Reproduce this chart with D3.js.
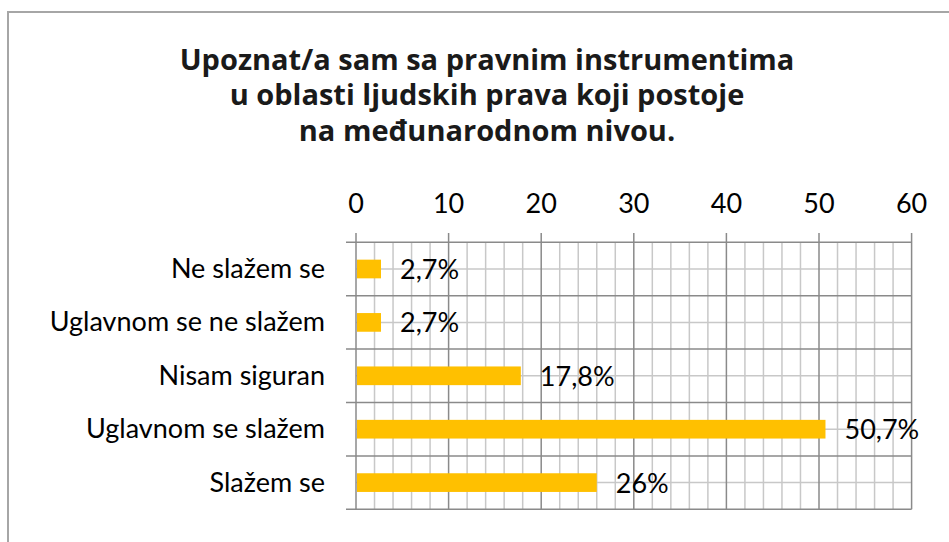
<!DOCTYPE html>
<html>
<head>
<meta charset="utf-8">
<script src="https://cdn.jsdelivr.net/npm/d3@7"></script>
<style>
  html, body { margin: 0; padding: 0; background: #fff; }
  svg { display: block; }
</style>
</head>
<body>
<svg id="chart" width="949" height="542"></svg>
<script>
const titleLines = ["Upoznat/a sam sa pravnim instrumentima", "u oblasti ljudskih prava koji postoje", "na međunarodnom nivou."];
const categories = ["Ne slažem se", "Uglavnom se ne slažem", "Nisam siguran", "Uglavnom se slažem", "Slažem se"];
const values = [2.7, 2.7, 17.8, 50.7, 26];
const valueLabels = ["2,7%", "2,7%", "17,8%", "50,7%", "26%"];
const tickValues = [0, 10, 20, 30, 40, 50, 60];
const minorTickValues = d3.range(0, 61, 2);

const svg = d3.select("#chart");
const labelFont = "Lato, 'Open Sans', sans-serif";
const labelSize = 27;

// outer border
svg.append("rect")
  .attr("x", 8).attr("y", 12).attr("width", 960).attr("height", 560)
  .attr("fill", "none").attr("stroke", "#a6a6a6").attr("stroke-width", 2);

// title
const title = svg.append("text")
  .attr("text-anchor", "middle")
  .attr("font-family", "'Open Sans', sans-serif")
  .attr("font-weight", "bold")
  .attr("font-size", 29)
  .attr("fill", "#1a1a1a");
titleLines.forEach((t, i) => {
  title.append("tspan").attr("x", 487).attr("y", 69.5 + i * 35.5).text(t);
});

const x = d3.scaleLinear().domain([0, 60]).range([356, 911.6]);
const y = d3.scaleBand().domain(categories).range([242.3, 509.3]).paddingInner(0.65).paddingOuter(0.325);
const yOuter = d3.scaleBand().domain(categories).range([242.3, 509.3]);

const grid = svg.append("g");
// minor vertical
grid.selectAll("line.vminor").data(minorTickValues.filter(v => v % 10 !== 0)).join("line")
  .attr("x1", d => x(d)).attr("x2", d => x(d))
  .attr("y1", 242.3).attr("y2", 509.3)
  .attr("stroke", "#c8c8c8").attr("stroke-width", 1.5);
// minor horizontal at category centers
grid.selectAll("line.hminor").data(categories).join("line")
  .attr("x1", 356).attr("x2", 911.6)
  .attr("y1", d => yOuter(d) + yOuter.bandwidth() / 2)
  .attr("y2", d => yOuter(d) + yOuter.bandwidth() / 2)
  .attr("stroke", "#c8c8c8").attr("stroke-width", 1.5);
// major vertical
grid.selectAll("line.vmajor").data(tickValues).join("line")
  .attr("x1", d => x(d)).attr("x2", d => x(d))
  .attr("y1", 233).attr("y2", 509.3)
  .attr("stroke", "#8a8a8a").attr("stroke-width", 1.5);
// major horizontal at category boundaries
const bounds = categories.map(c => yOuter(c)).concat([509.3]);
grid.selectAll("line.hmajor").data(bounds).join("line")
  .attr("x1", 346).attr("x2", 911.6)
  .attr("y1", d => d).attr("y2", d => d)
  .attr("stroke", "#8a8a8a").attr("stroke-width", 1.5);

// top axis labels
svg.append("g").selectAll("text").data(tickValues).join("text")
  .attr("x", d => x(d)).attr("y", 213)
  .attr("text-anchor", "middle")
  .attr("font-family", labelFont).attr("font-size", labelSize).attr("fill", "#000")
  .text(d => d);

// bars
svg.append("g").selectAll("rect").data(values).join("rect")
  .attr("x", x(0) + 1)
  .attr("y", (d, i) => y(categories[i]))
  .attr("width", d => x(d) - x(0) - 1)
  .attr("height", y.bandwidth())
  .attr("fill", "#FFC000");

// value labels
svg.append("g").selectAll("text").data(values).join("text")
  .attr("x", d => x(d) + 19)
  .attr("y", (d, i) => yOuter(categories[i]) + yOuter.bandwidth() / 2 + 10)
  .attr("font-family", labelFont).attr("font-size", labelSize).attr("fill", "#000")
  .text((d, i) => valueLabels[i]);

// category labels
svg.append("g").selectAll("text").data(categories).join("text")
  .attr("x", 325)
  .attr("y", d => yOuter(d) + yOuter.bandwidth() / 2 + 9)
  .attr("text-anchor", "end")
  .attr("font-family", labelFont).attr("font-size", labelSize).attr("fill", "#000")
  .text(d => d);
</script>
</body>
</html>
